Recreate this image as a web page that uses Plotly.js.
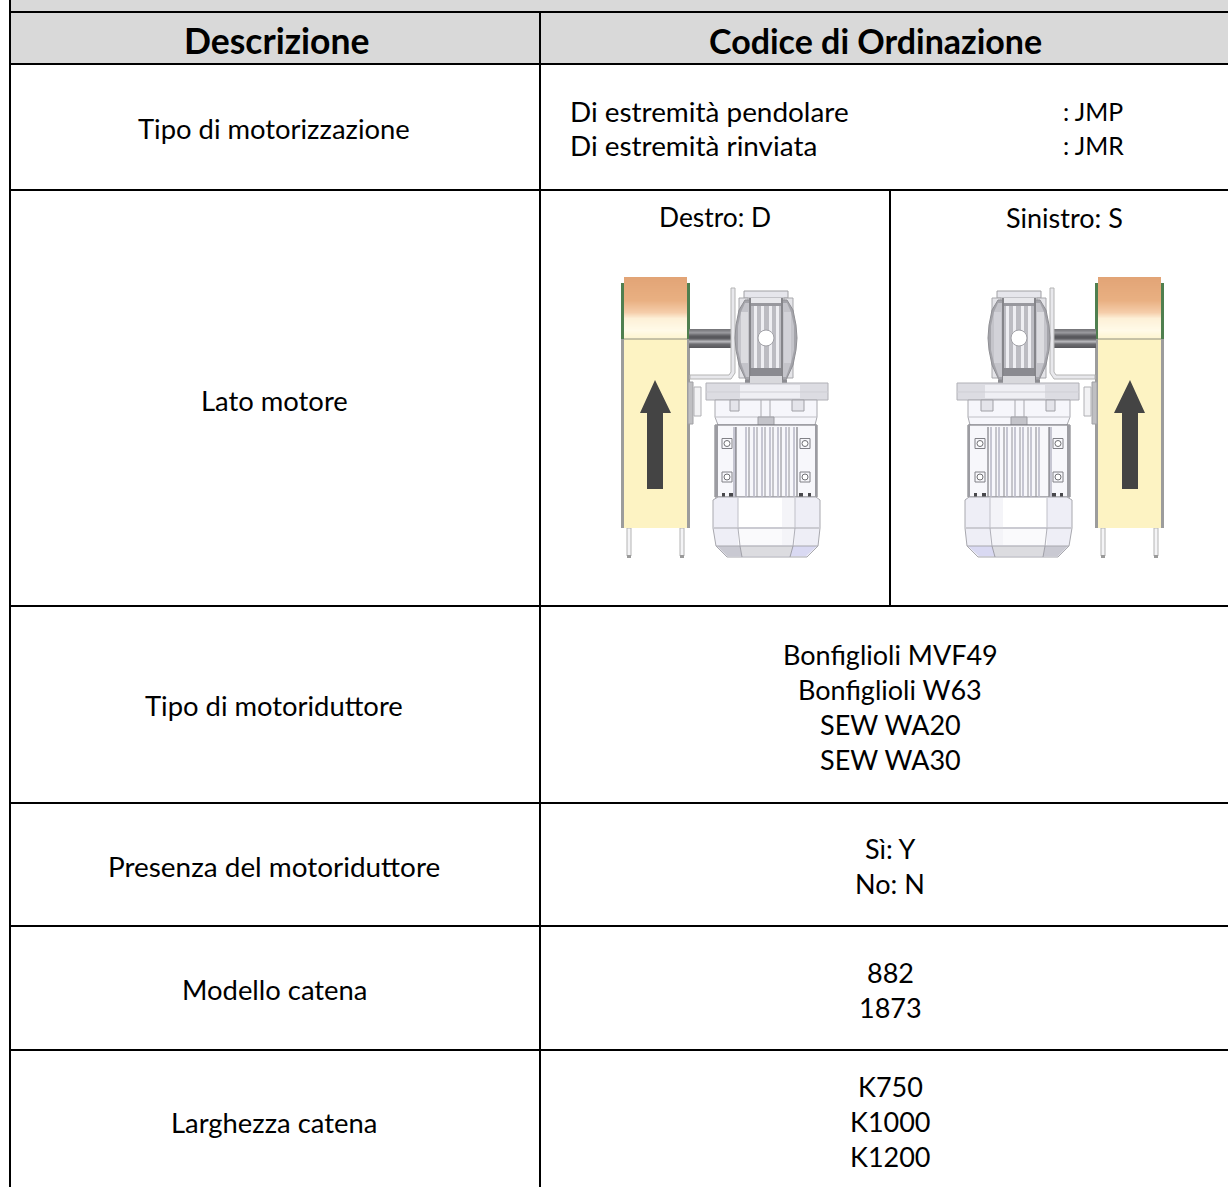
<!DOCTYPE html>
<html><head><meta charset="utf-8">
<script src="https://cdn.plot.ly/plotly-3.0.1.min.js"></script>
<style>html,body{margin:0;padding:0;background:#fff}</style></head>
<body><div id="chart" style="width:1228px;height:1187px"></div>
<script>
const headers = ["Descrizione", "Codice di Ordinazione"];
const rowLabels = ["Tipo di motorizzazione","Lato motore","Tipo di motoriduttore","Presenza del motoriduttore","Modello catena","Larghezza catena"];
const rowLines = [190,606,803,926,1050];
const motorTypes = ["Di estremità pendolare","Di estremità rinviata"];
const motorCodes = [": JMP",": JMR"];
const sides = ["Destro: D","Sinistro: S"];
const gearmotors = ["Bonfiglioli MVF49","Bonfiglioli W63","SEW WA20","SEW WA30"];
const presence = ["Sì: Y","No: N"];
const chainModels = ["882","1873"];
const chainWidths = ["K750","K1000","K1200"];

const FONT = "Lato, 'Open Sans', sans-serif";
const shapes = [], annotations = [];
const L = 10, H0 = 12, H1 = 64, C1 = 540, C2 = 890, W = 1228, HT = 1187;
function rect(x0,y0,x1,y1,fill,line,lw){shapes.push({type:'rect',x0,y0,x1,y1,fillcolor:fill,line:{color:line||fill,width:line?(lw||1):0},layer:'above'});}
function hline(y,x0,x1){shapes.push({type:'line',x0,x1,y0:y,y1:y,line:{color:'#000',width:2},layer:'above'});}
function vline(x,y0,y1){shapes.push({type:'line',x0:x,x1:x,y0,y1,line:{color:'#000',width:2},layer:'above'});}
function text(t,x,y,size,anchor,bold){annotations.push({text:bold?'<b>'+t+'</b>':t,x,y,xref:'x',yref:'y',showarrow:false,xanchor:anchor||'center',yanchor:'middle',font:{family:FONT,size:size||27,color:'#000'}});}
function path(d,fill,line,lw){shapes.push({type:'path',path:d,fillcolor:fill,line:{color:line||fill,width:line?(lw||1):0},layer:'above'});}

function motor(m){
  const R=(a,y0,b,y1,f,l,w)=>rect(Math.min(m(a),m(b)),y0,Math.max(m(a),m(b)),y1,f,l,w);
  const P=(pts,f,l,w)=>path('M'+pts.map(p=>m(p[0])+','+p[1]).join('L')+'Z',f,l,w);
  const LN=(a,y0,b,y1,c,w)=>shapes.push({type:'line',x0:m(a),x1:m(b),y0,y1,line:{color:c,width:w||1},layer:'above'});
  // legs
  [[627,631],[680,684]].forEach(p=>{R(p[0],528,p[1],556,'#f4f4f6','#b4b4b4',1);R(p[0],555,p[1],558,'#9a9a9a');});
  // belt housing
  R(621,283,690,528,'#9c9c9c');
  R(621,283,624,339,'#4f7f4f'); R(687,283,690,339,'#4f7f4f');
  R(624,339,687,528,'#fdf3c3');
  const stops=[[277,[226,164,118]],[300,[233,176,130]],[312,[245,205,170]],[318,[253,240,215]],[330,[255,250,232]],[339,[253,244,205]]];
  for(let i=0;i<stops.length-1;i++){
    const [y0,a]=stops[i],[y1,b]=stops[i+1];
    for(let y=y0;y<y1;y+=1){const t=(y-y0)/(y1-y0);
      const c=a.map((v,k)=>Math.round(v+(b[k]-v)*t));
      R(624,y,687,y+1,`rgb(${c})`);}
  }
  LN(624,339,687,339,'#8f8f80',1);
  // arrow
  P([[655,380],[671,413],[663,413],[663,489],[647,489],[647,413],[640,413]],'#444444');
  // shaft
  const sh=['#77777b','#808084','#8c8c90','#98989c','#8c8c90','#77777b','#66666a','#5a5a5e','#58585c','#5f5f63','#77777b','#9a9a9e','#b4b4b8','#a0a0a4','#808084','#6c6c70','#66666a','#606064','#5a5a5e'];
  sh.forEach((c,i)=>R(689,329+i,733,330+i,c));
  // plate, bracket, side block
  P([[731,288],[735,288],[735,373],[731,379],[690,379],[690,375],[729,375],[731,372]],'#e8e8ec','#b4b4b4',1);
  R(688,382,693,424,'#bfbfc2','#a0a0a4',1);
  R(694,387,701,416,'#f2f2f4','#b0b0b4',1);
  // gearbox
  R(744,291,788,298,'#e6e6ec','#a0a0a4',1);
  R(739,298,748,314,'#e4e4e8','#a8a8ac',1); R(784,298,793,314,'#e4e4e8','#a8a8ac',1);
  R(739,360,748,378,'#e4e4e8','#a8a8ac',1); R(784,360,793,378,'#e4e4e8','#a8a8ac',1);
  P([[745,300],[739,310],[736,325],[735,338],[736,350],[739,365],[746,380],[786,380],[793,365],[796,350],[797,338],[796,325],[793,310],[787,300]],'#a4a4aa','#8f8f94',1);
  P([[745,303],[741,312],[738,326],[738,350],[741,363],[746,377],[786,377],[791,363],[794,350],[794,326],[791,312],[787,303]],'#c4c4ca');
  R(741,312,748,363,'#dcdce0');
  R(784,312,791,363,'#d2d2d8');
  R(749,298,751,380,'#85858a');
  R(781,298,783,380,'#85858a');
  R(751,298,781,380,'#98989e');
  R(751,298,781,303,'#e8e8ec');
  R(751,306,781,368,'#bcbcc2');
  [754,761,769,776].forEach(x=>R(x,306,x+3,368,'#eeeef2'));
  R(751,368,781,376,'#8a8a90');
  R(750,376,782,382,'#d8d8dc');
  shapes.push({type:'circle',x0:m(766)-8,x1:m(766)+8,y0:330,y1:346,fillcolor:'#ffffff',line:{color:'#a0a0a6',width:1},layer:'above'});
  R(745,380,750,384,'#8d8d92'); R(782,380,787,384,'#8d8d92');
  // flange
  R(706,383,828,400,'#dcdce2','#b0b0b6',1);
  R(740,385,800,398,'#efeff4');
  LN(706,392,828,392,'#cfcfd5',1);
  // head
  P([[715,400],[817,400],[817,417],[815,425],[718,425],[715,417]],'#f6f6fb','#a8a8ae',1);
  LN(715,417,817,417,'#c0c0c6',1);
  R(730,400,739,411,'#e4e4ea','#a0a0a6',1); R(792,400,804,411,'#e4e4ea','#a0a0a6',1);
  R(758,417,774,425,'#c4c4ca','#9c9ca2',1);
  LN(761,400,761,417,'#a8a8ae',1); LN(770,400,770,417,'#a8a8ae',1);
  // motor body
  R(715,425,817,497,'#f7f7fb','#6f6f74',1);
  R(715,425,718,497,'#9c9ca2');
  R(815,425,817,497,'#9c9ca2');
  [[733,736],[745,747],[753,755],[761,763],[769,771],[777,779],[785,787],[793,795]].forEach(p=>R(p[0],427,p[1],497,'#c6c6d2'));
  [[736,'#66666c'],[749,'#85858b'],[757,'#94949a'],[765,'#94949a'],[773,'#94949a'],[781,'#85858b'],[789,'#94949a'],[797,'#66666c']].forEach(p=>LN(p[0],427,p[0],497,p[1],1));
  [[727,443.5],[727,477],[805,443.5],[805,477]].forEach(p=>{
    R(p[0]-5,p[1]-5,p[0]+5,p[1]+5,'#f7f7fb','#808086',1);
    shapes.push({type:'circle',x0:m(p[0])-3,x1:m(p[0])+3,y0:p[1]-3,y1:p[1]+3,fillcolor:'#ffffff',line:{color:'#707074',width:1},layer:'above'});
  });
  [[722,725],[729,733],[799,803],[808,811]].forEach(p=>R(p[0],493,p[1],497,'#48484c'));
  // fan cover
  P([[718,497],[816,497],[820,500],[820,528],[818,546],[807,557],[727,557],[716,546],[713,528],[713,500]],'#eeeef6','#a8a8ae',1);
  P([[717,546],[740,546],[742,556],[727,556]],'#c9c9d2');
  P([[740,546],[793,546],[790,556],[742,556]],'#dcdce0');
  P([[793,546],[817,546],[806,556],[790,556]],'#d9d9f2');
  R(738,498,782,527,'#ffffff'); R(738,529,782,545,'#fafafc');
  R(782,498,795,545,'#f4f4f8');
  LN(714,528,819,528,'#a8a8ae',1); LN(716,546,818,546,'#a8a8ae',1);
  LN(738,498,738,528,'#c0c0c8',1); LN(738,528,740,546,'#b0b0b8',1); LN(740,546,742,557,'#a0a0a8',1);
  LN(795,498,795,528,'#c0c0c8',1); LN(795,528,793,546,'#b0b0b8',1); LN(793,546,790,557,'#a0a0a8',1);
}

// header band and grid
rect(L,0,W,H1,'#d9d9d9');
[H0,H1,...rowLines].forEach(y=>hline(y,L,W));
vline(L,0,HT); vline(C1,H0,HT); vline(C2,190,606);

// texts
text(headers[0],276,40,35.5,'center',true);
text(headers[1],875,40,34,'center',true);
const rowYs=[128.5,400,705,866,989,1122];
const rowSizes=[27.4,27.4,27.4,27.9,27.4,27.4];
rowLabels.forEach((t,i)=>text(t,274,rowYs[i],rowSizes[i]));
motorTypes.forEach((t,i)=>{text(t,568,111+i*34,27.9,'left');text(motorCodes[i],1061,111.5+i*34,24.8,'left');});
text(sides[0],715,217,26.4); text(sides[1],1064,217,27);
gearmotors.forEach((t,i)=>text(t,890,654.5+i*35,27));
presence.forEach((t,i)=>text(t,890,848.5+i*35,27));
chainModels.forEach((t,i)=>text(t,890,972.5+i*34.5,27));
chainWidths.forEach((t,i)=>text(t,890,1086.5+i*35,27));

motor(x=>x);
motor(x=>1785-x);

Plotly.newPlot('chart',[{x:[0],y:[0],type:'scatter',mode:'markers',marker:{opacity:0},hoverinfo:'skip',showlegend:false}],{
  width:W,height:HT,margin:{l:0,r:0,t:0,b:0},paper_bgcolor:'#fff',plot_bgcolor:'#fff',showlegend:false,
  xaxis:{range:[0,W],visible:false,fixedrange:true},
  yaxis:{range:[HT,0],visible:false,fixedrange:true},
  shapes,annotations
},{displayModeBar:false,staticPlot:true});
</script></body></html>
